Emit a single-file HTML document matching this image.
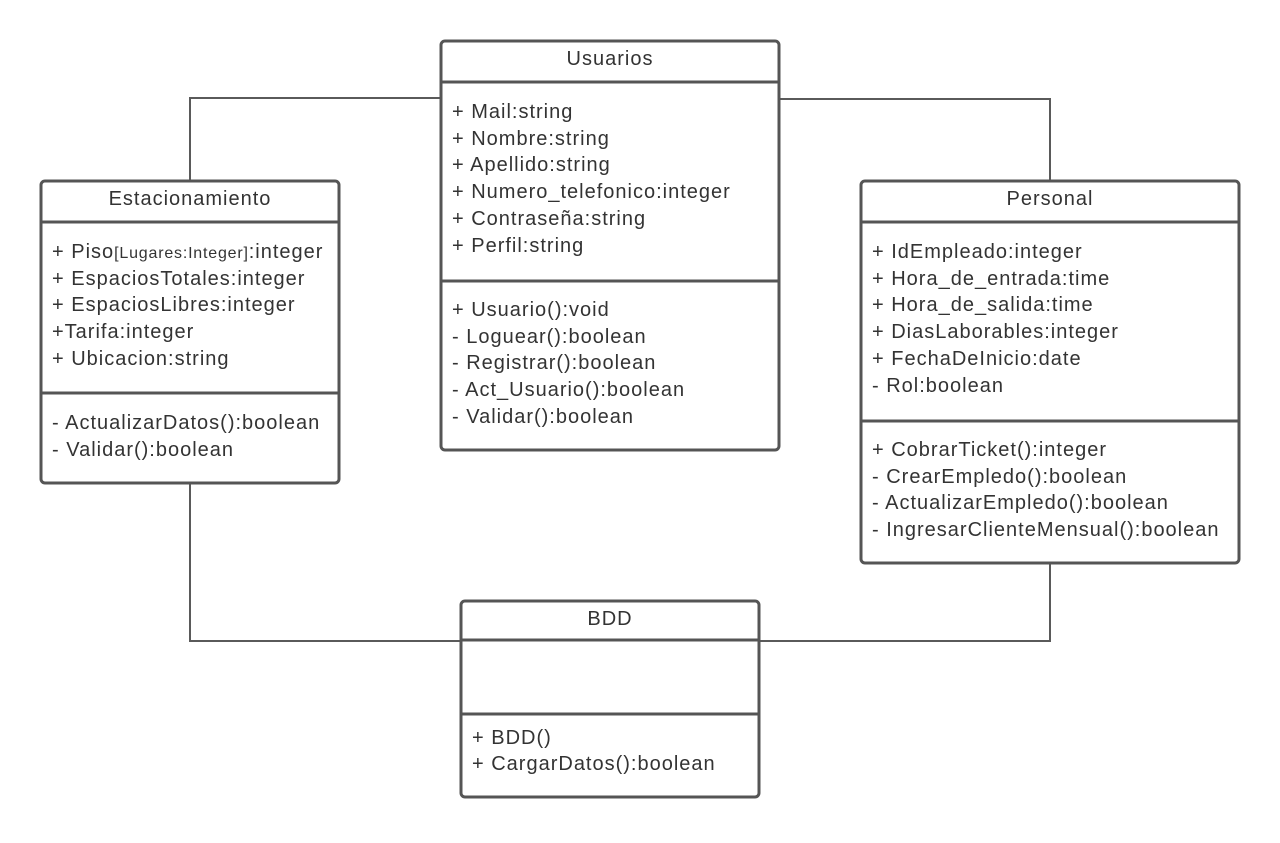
<!DOCTYPE html>
<html><head><meta charset="utf-8"><style>
body{margin:0;background:#fff}
svg text{font-family:"Liberation Sans",sans-serif;font-size:20px;letter-spacing:1px;fill:#333}
</style></head><body>
<svg width="1280" height="838" xmlns="http://www.w3.org/2000/svg">
<g fill="none" stroke="#5a5a5a" stroke-width="2">
<polyline points="440,98 190,98 190,180"/>
<polyline points="780,99 1050,99 1050,180"/>
<polyline points="190,484 190,641 460,641"/>
<polyline points="1050,564 1050,641 760,641"/>
</g>
<g fill="#fff" stroke="#555" stroke-width="3">
<rect x="441" y="41" width="338" height="409" rx="4"/>
<rect x="41" y="181" width="298" height="302" rx="4"/>
<rect x="861" y="181" width="378" height="382" rx="4"/>
<rect x="461" y="601" width="298" height="196" rx="4"/>
</g>
<g stroke="#555" stroke-width="3">
<line x1="441" y1="82" x2="779" y2="82"/><line x1="441" y1="281" x2="779" y2="281"/>
<line x1="41" y1="222" x2="339" y2="222"/><line x1="41" y1="393" x2="339" y2="393"/>
<line x1="861" y1="222" x2="1239" y2="222"/><line x1="861" y1="421" x2="1239" y2="421"/>
<line x1="461" y1="640" x2="759" y2="640"/><line x1="461" y1="714" x2="759" y2="714"/>
</g>
<g text-anchor="middle">
<text x="610" y="65">Usuarios</text>
<text x="190" y="205">Estacionamiento</text>
<text x="1050" y="205">Personal</text>
<text x="610" y="625">BDD</text>
</g>
<g>
<text x="452" y="118">+ Mail:string</text>
<text x="452" y="145">+ Nombre:string</text>
<text x="452" y="171">+ Apellido:string</text>
<text x="452" y="198">+ Numero_telefonico:integer</text>
<text x="452" y="225">+ Contraseña:string</text>
<text x="452" y="252">+ Perfil:string</text>
<text x="452" y="316">+ Usuario():void</text>
<text x="452" y="343">- Loguear():boolean</text>
<text x="452" y="369">- Registrar():boolean</text>
<text x="452" y="396">- Act_Usuario():boolean</text>
<text x="452" y="423">- Validar():boolean</text>

<text x="52" y="258">+ Piso<tspan font-size="16" letter-spacing="0.8px">[Lugares:Integer]</tspan>:integer</text>
<text x="52" y="285">+ EspaciosTotales:integer</text>
<text x="52" y="311">+ EspaciosLibres:integer</text>
<text x="52" y="338">+Tarifa:integer</text>
<text x="52" y="365">+ Ubicacion:string</text>
<text x="52" y="429">- ActualizarDatos():boolean</text>
<text x="52" y="456">- Validar():boolean</text>

<text x="872" y="258">+ IdEmpleado:integer</text>
<text x="872" y="285">+ Hora_de_entrada:time</text>
<text x="872" y="311">+ Hora_de_salida:time</text>
<text x="872" y="338">+ DiasLaborables:integer</text>
<text x="872" y="365">+ FechaDeInicio:date</text>
<text x="872" y="392">- Rol:boolean</text>
<text x="872" y="456">+ CobrarTicket():integer</text>
<text x="872" y="483">- CrearEmpledo():boolean</text>
<text x="872" y="509">- ActualizarEmpledo():boolean</text>
<text x="872" y="536">- IngresarClienteMensual():boolean</text>

<text x="472" y="744">+ BDD()</text>
<text x="472" y="770">+ CargarDatos():boolean</text>
</g>
</svg>
</body></html>
